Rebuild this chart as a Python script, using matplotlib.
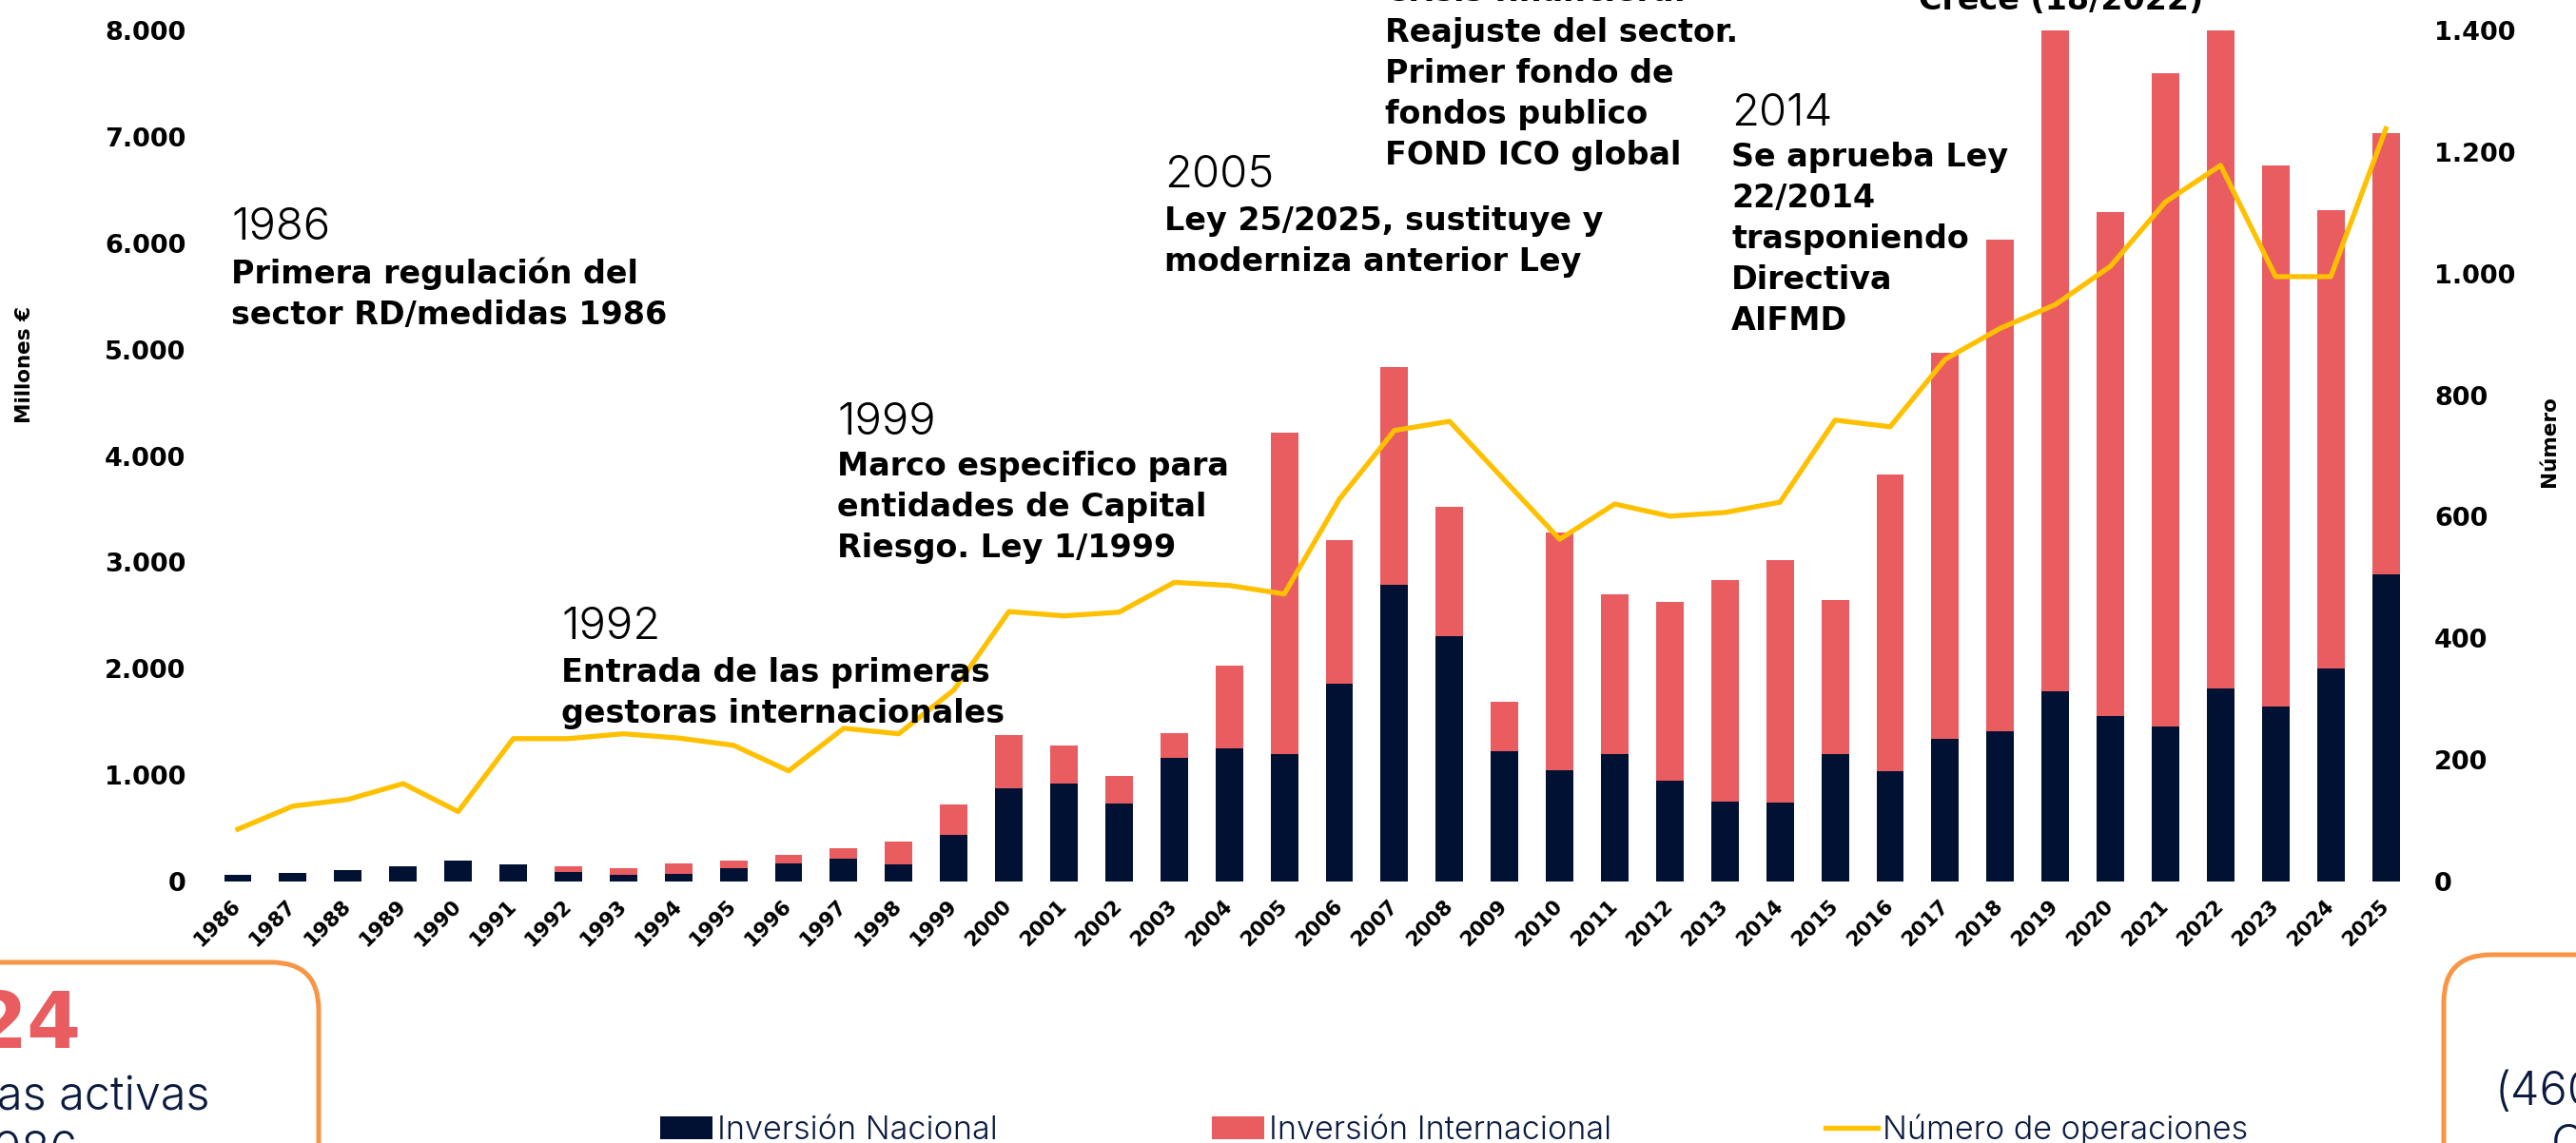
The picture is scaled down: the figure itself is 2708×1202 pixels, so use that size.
import matplotlib
matplotlib.use("Agg")
import matplotlib.pyplot as plt
from matplotlib.patches import Patch, FancyBboxPatch
from matplotlib.lines import Line2D
from matplotlib.transforms import IdentityTransform
from matplotlib.ticker import FuncFormatter, MultipleLocator

# ---------------- data ----------------
years = [str(y) for y in range(1986, 2026)]
inversion_nacional = [63, 83, 107, 146, 193, 161, 89, 65, 74, 122, 170, 211, 161, 437,
                      872, 923, 729, 1164, 1253, 1199, 1860, 2786, 2304, 1226, 1042,
                      1199, 946, 750, 738, 1196, 1040, 1345, 1411, 1791, 1555, 1453,
                      1812, 1648, 2004, 2887]
inversion_total = [63, 83, 107, 146, 193, 161, 146, 128, 167, 193, 247, 312, 375, 723,
                   1378, 1274, 991, 1393, 2033, 4220, 3208, 4840, 3521, 1688, 3277,
                   2702, 2628, 2836, 3024, 2643, 3823, 4970, 6030, 8500, 6293, 7596,
                   9000, 6728, 6308, 7033]
inversion_internacional = [t - n for t, n in zip(inversion_total, inversion_nacional)]
num_operaciones = [86, 124, 135, 161, 115, 235, 235, 243, 236, 224, 182, 252, 243, 315,
                   444, 437, 443, 492, 487, 473, 629, 742, 757, 660, 563, 621, 601, 607,
                   624, 759, 748, 859, 910, 949, 1012, 1118, 1178, 995, 995, 1238]

legend_labels = ["Inversión Nacional", "Inversión Internacional", "Número de operaciones"]

# annotations: (year label, text lines, left x px, year baseline px, first line baseline px)
annotations = [
    ("1986", ["Primera regulación del", "sector RD/medidas 1986"], 243, 252, 298),
    ("1992", ["Entrada de las primeras", "gestoras internacionales"], 590, 672, 717),
    ("1999", ["Marco especifico para", "entidades de Capital", "Riesgo. Ley 1/1999"], 880, 457, 500),
    ("2005", ["Ley 25/2025, sustituye y", "moderniza anterior Ley"], 1224, 197, 242),
    (None, ["Crisis financiera.", "Reajuste del sector.", "Primer fondo de", "fondos publico",
            "FOND ICO global"], 1456, None, 1),
    ("2014", ["Se aprueba Ley", "22/2014", "trasponiendo", "Directiva", "AIFMD"], 1820, 132, 175),
    (None, ["Crece (18/2022)"], 2017, None, 10),
]

# ---------------- style ----------------
NAVY = "#011133"
RED = "#E95C60"
YELLOW = "#FFC000"
ORANGE = "#F79646"
TEXT_NAVY = "#0B1B3F"
BOLD_FONT = ["DejaVu Sans"]
LIGHT_FONT = ["Inter", "DejaVu Sans"]

W, H = 2708, 1202
fig = plt.figure(figsize=(W / 100, H / 100), dpi=100)


def fx(x):
    return x / W


def fy(y):
    return 1 - y / H


ax_left, ax_right, ax_top, ax_bottom = 206.6, 2551.5, 32, 927
ax = fig.add_axes([fx(ax_left), fy(ax_bottom), (ax_right - ax_left) / W, (ax_bottom - ax_top) / H])
xpos = list(range(len(years)))
ax.bar(xpos, inversion_nacional, width=0.5, color=NAVY, zorder=2)
ax.bar(xpos, inversion_internacional, width=0.5, bottom=inversion_nacional, color=RED, zorder=2)
ax.set_xlim(-0.75, len(years) - 1 + 0.75)
ax.set_ylim(0, 8000)
ax.yaxis.set_major_locator(MultipleLocator(1000))
fmt = FuncFormatter(lambda v, p: f"{int(round(v)):,}".replace(",", "."))
ax.yaxis.set_major_formatter(fmt)
ax.set_xticks(xpos)
ax.set_xticklabels(years, rotation=45, ha="right", va="center", rotation_mode="anchor",
                   fontfamily=BOLD_FONT, fontweight="bold", fontsize=15.5)
ax.tick_params(axis="x", length=0, pad=16)
ax.tick_params(axis="y", length=0, pad=8)
for lab in ax.get_yticklabels():
    lab.set_fontfamily(BOLD_FONT)
    lab.set_fontweight("bold")
    lab.set_fontsize(19.5)
for s in ax.spines.values():
    s.set_visible(False)

ax2 = ax.twinx()
ax2.plot(xpos, num_operaciones, color=YELLOW, lw=3.8, zorder=3)
ax2.set_ylim(0, 1400)
ax2.yaxis.set_major_locator(MultipleLocator(200))
ax2.yaxis.set_major_formatter(fmt)
ax2.tick_params(axis="y", length=0, pad=5.5)
for lab in ax2.get_yticklabels():
    lab.set_fontfamily(BOLD_FONT)
    lab.set_fontweight("bold")
    lab.set_fontsize(19.5)
for s in ax2.spines.values():
    s.set_visible(False)

# axis titles
fig.text(fx(26), fy(383), "Millones €", rotation=90, ha="center", va="center",
         fontfamily=BOLD_FONT, fontweight="bold", fontsize=15.5)
fig.text(fx(2680), fy(464), "Número", rotation=90, ha="center", va="center",
         fontfamily=BOLD_FONT, fontweight="bold", fontsize=15.5)

# annotations
LINE_SP = 43
for year, lines, x0, yb, lb in annotations:
    if year is not None:
        fig.text(fx(x0), fy(yb), year, ha="left", va="baseline", fontfamily=LIGHT_FONT,
                 fontweight=300, fontsize=34, color="black")
    for i, line in enumerate(lines):
        fig.text(fx(x0), fy(lb + i * LINE_SP), line, ha="left", va="baseline",
                 fontfamily=BOLD_FONT, fontweight="bold", fontsize=24, color="black")

# legend
handles = [Patch(facecolor=NAVY, edgecolor="none"), Patch(facecolor=RED, edgecolor="none"),
           Line2D([0], [0], color=YELLOW, lw=3.8)]
fig.legend(handles, legend_labels, loc="center left", bbox_to_anchor=(fx(694), fy(1188)),
           ncol=3, frameon=False, handlelength=1.6, handleheight=0.7, handletextpad=0.15,
           columnspacing=6.6, borderpad=0, borderaxespad=0,
           prop={"family": LIGHT_FONT, "weight": 300, "size": 24.6}, labelcolor=TEXT_NAVY)

# decorative boxes
box_l = FancyBboxPatch((-60, H - 1300), 395, 288, boxstyle="round,pad=0,rounding_size=50",
                       transform=IdentityTransform(), facecolor="none", edgecolor=ORANGE, lw=3.6)
box_r = FancyBboxPatch((2569, H - 1300), 300, 296, boxstyle="round,pad=0,rounding_size=50",
                       transform=IdentityTransform(), facecolor="none", edgecolor=ORANGE, lw=3.6)
fig.add_artist(box_l)
fig.add_artist(box_r)
fig.text(fx(-29), fy(1102), "24", ha="left", va="baseline", fontfamily=BOLD_FONT,
         fontweight="bold", fontsize=59, color=RED)
fig.text(fx(-3), fy(1168), "as activas", ha="left", va="baseline", fontfamily=LIGHT_FONT,
         fontweight=300, fontsize=35, color=TEXT_NAVY)
fig.text(fx(-26), fy(1225), "1986", ha="left", va="baseline", fontfamily=LIGHT_FONT,
         fontweight=300, fontsize=35, color=TEXT_NAVY)
fig.text(fx(2623), fy(1162), "(460", ha="left", va="baseline", fontfamily=LIGHT_FONT,
         fontweight=300, fontsize=35, color=TEXT_NAVY)
fig.text(fx(2682), fy(1218), "C", ha="left", va="baseline", fontfamily=LIGHT_FONT,
         fontweight=300, fontsize=35, color=TEXT_NAVY)

fig.savefig("out.png", dpi=100, facecolor="white")
